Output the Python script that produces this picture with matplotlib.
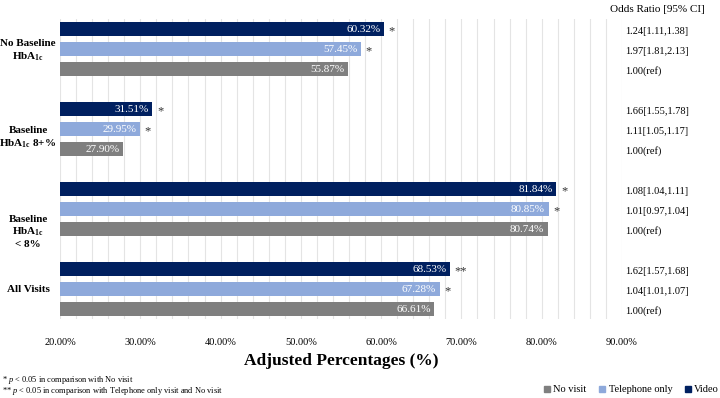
import numpy as np
import matplotlib
matplotlib.use('Agg')
import matplotlib.pyplot as plt
from matplotlib.patches import Patch

plt.rcParams['font.family'] = ['Liberation Serif', 'DejaVu Serif']
plt.rcParams['mathtext.fontset'] = 'custom'
plt.rcParams['mathtext.rm'] = 'Liberation Serif'
plt.rcParams['mathtext.it'] = 'Liberation Serif:italic'
plt.rcParams['mathtext.bf'] = 'Liberation Serif:bold'

# data
groups = [r"No Baseline" "\n" r"HbA$_{\mathbf{1c}}$",
          r"Baseline" "\n" r"HbA$_{\mathbf{1c}}$ 8+%",
          r"Baseline" "\n" r"HbA$_{\mathbf{1c}}$" "\n" r"< 8%",
          "All Visits"]
video = [60.32, 31.51, 81.84, 68.53]
telephone = [57.45, 29.95, 80.85, 67.28]
no_visit = [55.87, 27.90, 80.74, 66.61]
video_sig = ["*", "*", "*", "**"]
tel_sig = ["*", "*", "*", "*"]
or_video = ["1.24[1.11,1.38]", "1.66[1.55,1.78]", "1.08[1.04,1.11]", "1.62[1.57,1.68]"]
or_tel = ["1.97[1.81,2.13]", "1.11[1.05,1.17]", "1.01[0.97,1.04]", "1.04[1.01,1.07]"]
or_none = ["1.00(ref)", "1.00(ref)", "1.00(ref)", "1.00(ref)"]
xticks = [20, 30, 40, 50, 60, 70, 80, 90]

C_VIDEO = '#002060'
C_TEL = '#8EA9DB'
C_NONE = '#7F7F7F'

fig = plt.figure(figsize=(7.2, 3.98), dpi=100)
ax = fig.add_axes([60 / 720, 1 - 319 / 398, 562 / 720, 300 / 398])

# slot positions: 3 bars per group, one empty slot between groups
base = np.arange(len(groups)) * 4
y_video = base
y_tel = base + 1
y_none = base + 2

ax.barh(y_video, video, height=0.7, color=C_VIDEO, zorder=3)
ax.barh(y_tel, telephone, height=0.7, color=C_TEL, zorder=3)
ax.barh(y_none, no_visit, height=0.7, color=C_NONE, zorder=3)

ax.set_xlim(20, 90)
ax.set_ylim(14.5, -0.5)

# gridlines every 2%
ax.set_xticks(xticks)
ax.set_xticklabels([f"{t:.2f}%" for t in xticks], fontsize=7.5)
ax.set_xticks(np.arange(20, 91, 2), minor=True)
ax.grid(axis='x', which='both', color='#E4E4E4', linewidth=0.8, zorder=0)
ax.tick_params(axis='x', which='both', length=0, pad=14)
ax.set_yticks([])
for s in ax.spines.values():
    s.set_visible(False)
ax.set_xlabel("Adjusted Percentages (%)", fontsize=12.5, fontweight='bold', labelpad=4)

# value labels and significance marks
for ys, vals, sigs in [(y_video, video, video_sig), (y_tel, telephone, tel_sig),
                       (y_none, no_visit, None)]:
    for i, (y, v) in enumerate(zip(ys, vals)):
        ax.annotate(f"{v:.2f}%", (v, y), xytext=(-2.5, 0), textcoords='offset points',
                    ha='right', va='center', color='white', fontsize=8, zorder=4)
        if sigs is not None:
            ax.annotate(sigs[i], (v, y), xytext=(3.5, -2), textcoords='offset points',
                        ha='left', va='center', color='#333333', fontsize=9)

# odds ratios on the right
ytr = ax.get_yaxis_transform()
for ys, txts in [(y_video, or_video), (y_tel, or_tel), (y_none, or_none)]:
    for y, t in zip(ys, txts):
        ax.text(1.006, y + 0.1, t, transform=ytr, ha='left', va='center', fontsize=7.5)
fig.text(657 / 720, 1 - 9 / 398, "Odds Ratio [95% CI]", ha='center', va='center', fontsize=8)

# group labels on the left
label_y = [1.1, 5.45, 10.15, 13.05]
for lab, y in zip(groups, label_y):
    ax.text(-0.057, y, lab, transform=ytr, ha='center', va='center', fontsize=8,
            fontweight='bold', linespacing=1.25)

# footnotes
fig.text(2 / 720, 1 - 380 / 398, r"* $p$ < 0.05 in comparison with No visit",
         ha='left', va='center', fontsize=6)
fig.text(2 / 720, 1 - 391 / 398,
         r"** $p$ < 0.05 in comparison with Telephone only visit and No visit",
         ha='left', va='center', fontsize=6)

handles = [Patch(color=C_NONE, label='No visit'),
           Patch(color=C_TEL, label='Telephone only'),
           Patch(color=C_VIDEO, label='Video')]
fig.legend(handles=handles, loc='center right', bbox_to_anchor=(1.0, 1 - 390 / 398),
           ncol=3, frameon=False, fontsize=7.5, handlelength=0.6, handleheight=0.6,
           handletextpad=0.3, columnspacing=1.2, borderaxespad=0, borderpad=0.1)

fig.savefig('out.png', dpi=100)
